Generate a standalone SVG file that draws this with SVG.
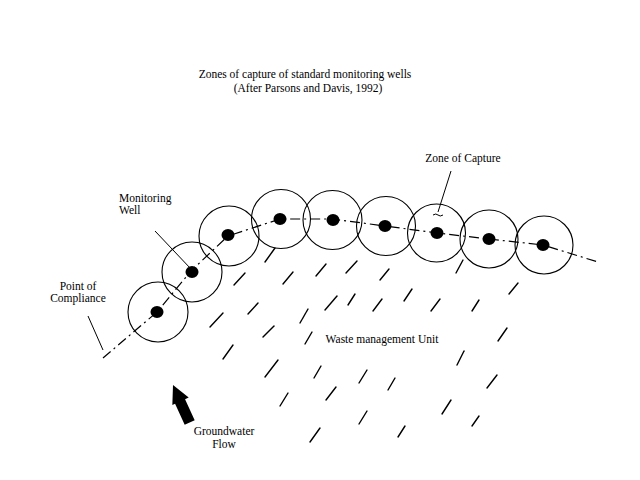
<svg xmlns="http://www.w3.org/2000/svg" width="640" height="480" viewBox="0 0 640 480">
<style>
text{font-family:"Liberation Serif","Times New Roman",serif;font-size:11.5px;fill:#000}
.zone{fill:none;stroke:#000;stroke-width:1.1}
.well{fill:#000}
.tick{stroke:#000;stroke-width:1.4;stroke-linecap:round;fill:none}
.lead{stroke:#000;stroke-width:1;fill:none}
.axis{stroke:#000;stroke-width:1.2;fill:none;stroke-dasharray:10 4 2 4}
</style>
<rect width="640" height="480" fill="#fff"/>
<g id="title">
<text x="305" y="78" text-anchor="middle">Zones of capture of standard monitoring wells</text>
<text x="308" y="92" text-anchor="middle">(After Parsons and Davis, 1992)</text>
</g>
<g id="connectors">
<polyline class="axis" points="103,358 157,312 191,271 228,236 280,219 332,219 385,226 437,233 489,239 543,245 598,262"/>
<line class="lead" x1="88" y1="316" x2="103" y2="350"/>
<line class="lead" x1="155" y1="231" x2="191" y2="269"/>
<line class="lead" x1="451" y1="171" x2="438" y2="212"/>
<path class="lead" d="M433,215 q3,-2 5,0 t5,0"/>
</g>
<g id="wells">
<g id="well1"><circle class="zone" cx="158" cy="312" r="30"/><ellipse class="well" cx="157" cy="312" rx="6.5" ry="6"/></g>
<g id="well2"><circle class="zone" cx="192" cy="272" r="30"/><ellipse class="well" cx="192" cy="272" rx="6.5" ry="6"/></g>
<g id="well3"><circle class="zone" cx="229" cy="236" r="30"/><ellipse class="well" cx="228" cy="235" rx="6.5" ry="6"/></g>
<g id="well4"><circle class="zone" cx="281" cy="219" r="29.5"/><ellipse class="well" cx="280" cy="219" rx="6.5" ry="6"/></g>
<g id="well5"><circle class="zone" cx="332.5" cy="220" r="29.5"/><ellipse class="well" cx="333" cy="220" rx="6.5" ry="6"/></g>
<g id="well6"><circle class="zone" cx="386" cy="226" r="29.5"/><ellipse class="well" cx="385" cy="226" rx="6.5" ry="6"/></g>
<g id="well7"><circle class="zone" cx="436.5" cy="233" r="29"/><ellipse class="well" cx="437" cy="233" rx="6.5" ry="6"/></g>
<g id="well8"><circle class="zone" cx="489" cy="239" r="29"/><ellipse class="well" cx="489" cy="239" rx="6.5" ry="6"/></g>
<g id="well9"><circle class="zone" cx="544" cy="245" r="29"/><ellipse class="well" cx="543" cy="245" rx="6.5" ry="6"/></g>
</g>
<g id="waste-unit">
<g class="tick">
<line x1="265" y1="262" x2="275" y2="248"/>
<line x1="234" y1="285" x2="245" y2="273"/>
<line x1="283" y1="284" x2="293" y2="272"/>
<line x1="316" y1="276" x2="326" y2="264"/>
<line x1="346" y1="273" x2="357" y2="261"/>
<line x1="380" y1="280" x2="389" y2="269"/>
<line x1="456" y1="273" x2="463" y2="260"/>
<line x1="210" y1="327" x2="223" y2="313"/>
<line x1="248" y1="314" x2="258" y2="303"/>
<line x1="263" y1="337" x2="274" y2="326"/>
<line x1="300" y1="323" x2="308" y2="309"/>
<line x1="305" y1="344" x2="312" y2="332"/>
<line x1="325" y1="310" x2="337" y2="296"/>
<line x1="348" y1="305" x2="355" y2="294"/>
<line x1="373" y1="311" x2="382" y2="299"/>
<line x1="404" y1="301" x2="412" y2="289"/>
<line x1="431" y1="311" x2="440" y2="299"/>
<line x1="472" y1="311" x2="479" y2="300"/>
<line x1="509" y1="294" x2="518" y2="283"/>
<line x1="498" y1="341" x2="507" y2="328"/>
<line x1="223" y1="359" x2="233" y2="345"/>
<line x1="265" y1="377" x2="278" y2="360"/>
<line x1="314" y1="378" x2="321" y2="366"/>
<line x1="359" y1="383" x2="367" y2="370"/>
<line x1="388" y1="390" x2="395" y2="378"/>
<line x1="457" y1="365" x2="464" y2="351"/>
<line x1="487" y1="388" x2="497" y2="375"/>
<line x1="280" y1="406" x2="288" y2="393"/>
<line x1="326" y1="400" x2="336" y2="387"/>
<line x1="442" y1="414" x2="451" y2="400"/>
<line x1="359" y1="424" x2="367" y2="411"/>
<line x1="472" y1="426" x2="479" y2="416"/>
<line x1="310" y1="442" x2="320" y2="428"/>
<line x1="398" y1="437" x2="405" y2="426"/>
</g>
<text x="382" y="343" text-anchor="middle">Waste management Unit</text>
</g>
<g id="groundwater-flow">
<polygon fill="#000" transform="translate(173,385) rotate(-24.7)" points="0,0 9,18 5,18 5,41 -6,41 -6,18 -9,18"/>
<text x="224" y="435" text-anchor="middle">Groundwater</text>
<text x="224" y="448" text-anchor="middle">Flow</text>
</g>
<g id="labels">
<text x="78" y="290" text-anchor="middle">Point of</text>
<text x="78" y="302" text-anchor="middle">Compliance</text>
<text x="119" y="202">Monitoring</text>
<text x="119" y="214">Well</text>
<text x="463" y="162" text-anchor="middle">Zone of Capture</text>
</g>
</svg>
